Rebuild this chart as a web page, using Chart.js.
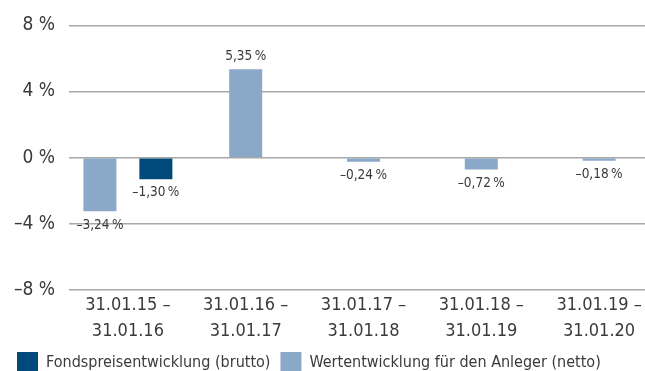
<!DOCTYPE html>
<html>
<head>
<meta charset="utf-8">
<script src="https://cdn.jsdelivr.net/npm/chart.js@4/dist/chart.umd.min.js"></script>
<style>
  html, body { margin: 0; padding: 0; background: #fff; overflow: hidden; }
  #wrap { position: relative; width: 662px; height: 383px; }
</style>
</head>
<body>
<div id="wrap"><canvas id="perf"></canvas></div>
<script>
  // Wertentwicklung, Zeiträume jeweils 31.01. – 31.01.
  const periods = [
    ['31.01.15 –', '31.01.16'],
    ['31.01.16 –', '31.01.17'],
    ['31.01.17 –', '31.01.18'],
    ['31.01.18 –', '31.01.19'],
    ['31.01.19 –', '31.01.20'],
  ];
  const netto = [-3.24, 5.35, -0.24, -0.72, -0.18];
  const brutto = [-1.30, null, null, null, null];
  const yTicks = [-8, -4, 0, 4, 8];

  const FONT = '"DejaVu Sans Condensed", "Liberation Sans", Arial, sans-serif';
  const TEXT = '#3a3a3a';
  const LIGHT = '#8aa8c8';
  const DARK = '#00497a';

  const fmtPct = (v) => (v < 0 ? '\u2013' : '') + Math.abs(v).toFixed(2).replace('.', ',') + '\u202F%';

  // Werte über/unter den Balken
  const valueLabels = {
    id: 'valueLabels',
    afterDatasetsDraw(chart) {
      const ctx = chart.ctx;
      ctx.save();
      ctx.font = '13.5px ' + FONT;
      ctx.fillStyle = TEXT;
      ctx.textAlign = 'center';
      chart.data.datasets.forEach((ds, i) => {
        const meta = chart.getDatasetMeta(i);
        meta.data.forEach((bar, j) => {
          const v = ds.data[j];
          if (v === null || v === undefined) return;
          if (v >= 0) {
            ctx.textBaseline = 'bottom';
            ctx.fillText(fmtPct(v), bar.x, bar.y - 6);
          } else {
            ctx.textBaseline = 'top';
            ctx.fillText(fmtPct(v), bar.x, bar.y + 7);
          }
        });
      });
      ctx.restore();
    },
  };

  new Chart(document.getElementById('perf'), {
    type: 'bar',
    data: {
      labels: periods,
      datasets: [
        { label: 'Wertentwicklung für den Anleger (netto)', data: netto, backgroundColor: LIGHT },
        { label: 'Fondspreisentwicklung (brutto)', data: brutto, backgroundColor: DARK },
      ],
    },
    options: {
      responsive: true, maintainAspectRatio: false, animation: false,
      skipNull: true,
      categoryPercentage: 0.95, barPercentage: 1, maxBarThickness: 33,
      layout: { padding: { left: 7, right: 4, top: 16, bottom: 0 } },
      plugins: {
        legend: {
          position: 'bottom', align: 'start',
          labels: {
            color: TEXT, font: { family: FONT, size: 16 }, boxWidth: 21, boxHeight: 21, padding: 10,
            sort: (a, b) => b.datasetIndex - a.datasetIndex,
          },
        },
        tooltip: { enabled: false },
      },
      scales: {
        x: {
          afterFit: (s) => { s.height = 52; },
          grid: { display: false, drawTicks: false }, border: { display: false },
          ticks: { color: TEXT, font: { family: FONT, size: 18, lineHeight: 26 / 18 }, padding: 2, maxRotation: 0, autoSkip: false },
        },
        y: {
          min: -8, max: 8,
          afterFit: (s) => { s.width = 62; },
          afterBuildTicks: (s) => { s.ticks = yTicks.map((v) => ({ value: v })); },
          grid: { color: '#a8a8a8', lineWidth: 1.5, drawTicks: false },
          border: { display: false },
          ticks: {
            color: TEXT, font: { family: FONT, size: 19 }, padding: 14,
            callback: (v) => (v < 0 ? '\u2013' + Math.abs(v) : v) + ' %',
          },
        },
      },
    },
    plugins: [valueLabels],
  });
</script>
</body>
</html>
